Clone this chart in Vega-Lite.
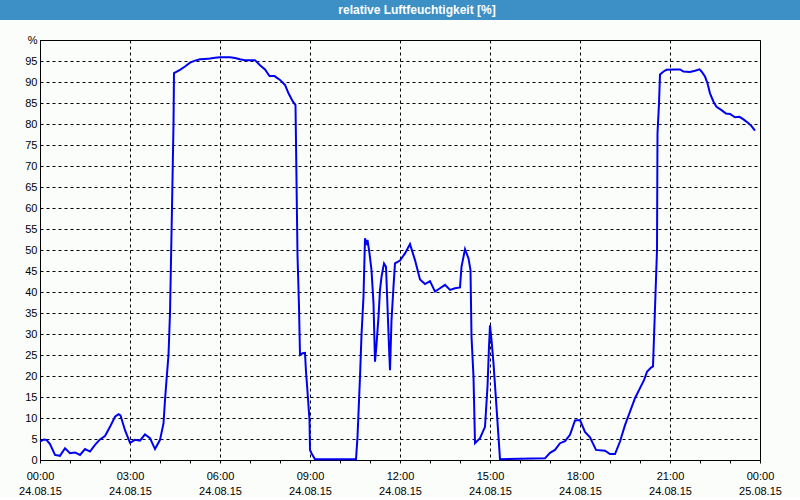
{
  "$schema": "https://vega.github.io/schema/vega-lite/v6.json",
  "background": "#fbfdfb",
  "padding": 0,
  "spacing": 20,
  "bounds": "flush",
  "center": true,
  "vconcat": [
    {
      "width": 800,
      "height": 20,
      "view": {"fill": "#3c90c6", "stroke": null},
      "data": {"values": [{"title": "relative Luftfeuchtigkeit [%]"}]},
      "mark": {"type": "text", "color": "white", "font": "Liberation Sans", "fontWeight": "bold", "fontSize": 12, "dx": 17, "baseline": "middle"},
      "encoding": {"text": {"field": "title", "type": "nominal"}}
    },
    {
      "width": 720,
      "height": 420,
      "view": {"stroke": "black", "strokeWidth": 1},
      "data": {"values": [
        {"t": "2015-08-24 00:00", "v": 4.4},
        {"t": "2015-08-24 00:08", "v": 4.9},
        {"t": "2015-08-24 00:13", "v": 4.8},
        {"t": "2015-08-24 00:20", "v": 3.8},
        {"t": "2015-08-24 00:30", "v": 1.2},
        {"t": "2015-08-24 00:40", "v": 1.0},
        {"t": "2015-08-24 00:50", "v": 2.8},
        {"t": "2015-08-24 01:00", "v": 1.6},
        {"t": "2015-08-24 01:10", "v": 1.8},
        {"t": "2015-08-24 01:20", "v": 1.2},
        {"t": "2015-08-24 01:30", "v": 2.6},
        {"t": "2015-08-24 01:40", "v": 2.0},
        {"t": "2015-08-24 01:50", "v": 3.6},
        {"t": "2015-08-24 02:00", "v": 4.9},
        {"t": "2015-08-24 02:10", "v": 5.7},
        {"t": "2015-08-24 02:20", "v": 7.9},
        {"t": "2015-08-24 02:30", "v": 10.3},
        {"t": "2015-08-24 02:37", "v": 10.9},
        {"t": "2015-08-24 02:41", "v": 10.6},
        {"t": "2015-08-24 02:50", "v": 7.1},
        {"t": "2015-08-24 03:00", "v": 4.1},
        {"t": "2015-08-24 03:10", "v": 4.8},
        {"t": "2015-08-24 03:20", "v": 4.6},
        {"t": "2015-08-24 03:30", "v": 6.1},
        {"t": "2015-08-24 03:40", "v": 5.2},
        {"t": "2015-08-24 03:50", "v": 2.6},
        {"t": "2015-08-24 04:00", "v": 4.8},
        {"t": "2015-08-24 04:07", "v": 8.7},
        {"t": "2015-08-24 04:10", "v": 14.3},
        {"t": "2015-08-24 04:13", "v": 19.0},
        {"t": "2015-08-24 04:17", "v": 25.0},
        {"t": "2015-08-24 04:20", "v": 35.0},
        {"t": "2015-08-24 04:24", "v": 60.0},
        {"t": "2015-08-24 04:27", "v": 80.0},
        {"t": "2015-08-24 04:28", "v": 92.1},
        {"t": "2015-08-24 04:40", "v": 92.9},
        {"t": "2015-08-24 04:50", "v": 93.7},
        {"t": "2015-08-24 05:00", "v": 94.6},
        {"t": "2015-08-24 05:10", "v": 95.1},
        {"t": "2015-08-24 05:20", "v": 95.4},
        {"t": "2015-08-24 05:30", "v": 95.5},
        {"t": "2015-08-24 05:40", "v": 95.6},
        {"t": "2015-08-24 05:50", "v": 95.8},
        {"t": "2015-08-24 06:00", "v": 95.9},
        {"t": "2015-08-24 06:10", "v": 95.9},
        {"t": "2015-08-24 06:20", "v": 95.9},
        {"t": "2015-08-24 06:30", "v": 95.7},
        {"t": "2015-08-24 06:40", "v": 95.4},
        {"t": "2015-08-24 06:50", "v": 95.2},
        {"t": "2015-08-24 07:00", "v": 95.2},
        {"t": "2015-08-24 07:10", "v": 95.2},
        {"t": "2015-08-24 07:20", "v": 94.0},
        {"t": "2015-08-24 07:30", "v": 93.0},
        {"t": "2015-08-24 07:39", "v": 91.4},
        {"t": "2015-08-24 07:49", "v": 91.4},
        {"t": "2015-08-24 08:00", "v": 90.5},
        {"t": "2015-08-24 08:10", "v": 89.3},
        {"t": "2015-08-24 08:17", "v": 87.3},
        {"t": "2015-08-24 08:25", "v": 85.5},
        {"t": "2015-08-24 08:31", "v": 84.5},
        {"t": "2015-08-24 08:35", "v": 48.8},
        {"t": "2015-08-24 08:38", "v": 36.5},
        {"t": "2015-08-24 08:40", "v": 25.0},
        {"t": "2015-08-24 08:45", "v": 25.4},
        {"t": "2015-08-24 08:50", "v": 25.5},
        {"t": "2015-08-24 08:52", "v": 21.0},
        {"t": "2015-08-24 08:55", "v": 16.3},
        {"t": "2015-08-24 08:59", "v": 9.5},
        {"t": "2015-08-24 09:00", "v": 2.4},
        {"t": "2015-08-24 09:03", "v": 1.6},
        {"t": "2015-08-24 09:10", "v": 0.2},
        {"t": "2015-08-24 10:32", "v": 0.2},
        {"t": "2015-08-24 10:35", "v": 5.5},
        {"t": "2015-08-24 10:40", "v": 19.8},
        {"t": "2015-08-24 10:43", "v": 29.8},
        {"t": "2015-08-24 10:47", "v": 38.9},
        {"t": "2015-08-24 10:50", "v": 52.8},
        {"t": "2015-08-24 10:53", "v": 51.2},
        {"t": "2015-08-24 10:55", "v": 52.4},
        {"t": "2015-08-24 10:59", "v": 49.2},
        {"t": "2015-08-24 11:03", "v": 45.2},
        {"t": "2015-08-24 11:07", "v": 37.3},
        {"t": "2015-08-24 11:10", "v": 23.4},
        {"t": "2015-08-24 11:13", "v": 27.4},
        {"t": "2015-08-24 11:17", "v": 34.1},
        {"t": "2015-08-24 11:20", "v": 40.5},
        {"t": "2015-08-24 11:23", "v": 43.6},
        {"t": "2015-08-24 11:28", "v": 46.8},
        {"t": "2015-08-24 11:32", "v": 46.0},
        {"t": "2015-08-24 11:35", "v": 36.5},
        {"t": "2015-08-24 11:38", "v": 27.0},
        {"t": "2015-08-24 11:40", "v": 21.4},
        {"t": "2015-08-24 11:43", "v": 33.3},
        {"t": "2015-08-24 11:47", "v": 41.3},
        {"t": "2015-08-24 11:50", "v": 46.8},
        {"t": "2015-08-24 12:00", "v": 47.5},
        {"t": "2015-08-24 12:10", "v": 49.2},
        {"t": "2015-08-24 12:20", "v": 51.4},
        {"t": "2015-08-24 12:30", "v": 47.6},
        {"t": "2015-08-24 12:40", "v": 43.0},
        {"t": "2015-08-24 12:50", "v": 41.9},
        {"t": "2015-08-24 13:00", "v": 42.6},
        {"t": "2015-08-24 13:10", "v": 40.1},
        {"t": "2015-08-24 13:20", "v": 40.9},
        {"t": "2015-08-24 13:30", "v": 41.7},
        {"t": "2015-08-24 13:40", "v": 40.5},
        {"t": "2015-08-24 13:50", "v": 40.9},
        {"t": "2015-08-24 14:00", "v": 41.1},
        {"t": "2015-08-24 14:03", "v": 46.0},
        {"t": "2015-08-24 14:10", "v": 50.2},
        {"t": "2015-08-24 14:17", "v": 48.0},
        {"t": "2015-08-24 14:21", "v": 45.2},
        {"t": "2015-08-24 14:23", "v": 29.4},
        {"t": "2015-08-24 14:27", "v": 19.8},
        {"t": "2015-08-24 14:30", "v": 4.0},
        {"t": "2015-08-24 14:40", "v": 5.2},
        {"t": "2015-08-24 14:50", "v": 7.9},
        {"t": "2015-08-24 14:55", "v": 17.5},
        {"t": "2015-08-24 14:58", "v": 27.0},
        {"t": "2015-08-24 15:00", "v": 32.1},
        {"t": "2015-08-24 15:03", "v": 28.6},
        {"t": "2015-08-24 15:07", "v": 23.0},
        {"t": "2015-08-24 15:12", "v": 14.3},
        {"t": "2015-08-24 15:17", "v": 5.5},
        {"t": "2015-08-24 15:20", "v": 0.2},
        {"t": "2015-08-24 16:50", "v": 0.4},
        {"t": "2015-08-24 17:00", "v": 1.7},
        {"t": "2015-08-24 17:10", "v": 2.4},
        {"t": "2015-08-24 17:20", "v": 4.0},
        {"t": "2015-08-24 17:30", "v": 4.5},
        {"t": "2015-08-24 17:40", "v": 6.0},
        {"t": "2015-08-24 17:50", "v": 9.4},
        {"t": "2015-08-24 18:00", "v": 9.5},
        {"t": "2015-08-24 18:10", "v": 6.7},
        {"t": "2015-08-24 18:20", "v": 5.4},
        {"t": "2015-08-24 18:32", "v": 2.4},
        {"t": "2015-08-24 18:50", "v": 2.2},
        {"t": "2015-08-24 19:00", "v": 1.4},
        {"t": "2015-08-24 19:10", "v": 1.4},
        {"t": "2015-08-24 19:20", "v": 4.4},
        {"t": "2015-08-24 19:30", "v": 8.3},
        {"t": "2015-08-24 19:40", "v": 11.5},
        {"t": "2015-08-24 19:50", "v": 14.7},
        {"t": "2015-08-24 20:00", "v": 17.1},
        {"t": "2015-08-24 20:08", "v": 19.0},
        {"t": "2015-08-24 20:14", "v": 21.0},
        {"t": "2015-08-24 20:22", "v": 22.0},
        {"t": "2015-08-24 20:26", "v": 22.3},
        {"t": "2015-08-24 20:34", "v": 50.0},
        {"t": "2015-08-24 20:35", "v": 77.8},
        {"t": "2015-08-24 20:38", "v": 84.9},
        {"t": "2015-08-24 20:40", "v": 91.8},
        {"t": "2015-08-24 20:47", "v": 92.5},
        {"t": "2015-08-24 20:53", "v": 92.9},
        {"t": "2015-08-24 21:10", "v": 93.0},
        {"t": "2015-08-24 21:20", "v": 93.0},
        {"t": "2015-08-24 21:27", "v": 92.5},
        {"t": "2015-08-24 21:40", "v": 92.4},
        {"t": "2015-08-24 21:50", "v": 92.7},
        {"t": "2015-08-24 21:59", "v": 93.0},
        {"t": "2015-08-24 22:03", "v": 92.5},
        {"t": "2015-08-24 22:10", "v": 91.3},
        {"t": "2015-08-24 22:15", "v": 89.7},
        {"t": "2015-08-24 22:20", "v": 87.3},
        {"t": "2015-08-24 22:27", "v": 85.3},
        {"t": "2015-08-24 22:33", "v": 84.1},
        {"t": "2015-08-24 22:43", "v": 83.3},
        {"t": "2015-08-24 22:52", "v": 82.5},
        {"t": "2015-08-24 23:00", "v": 82.4},
        {"t": "2015-08-24 23:10", "v": 81.6},
        {"t": "2015-08-24 23:19", "v": 81.7},
        {"t": "2015-08-24 23:27", "v": 81.1},
        {"t": "2015-08-24 23:37", "v": 80.2},
        {"t": "2015-08-24 23:43", "v": 79.5},
        {"t": "2015-08-24 23:50", "v": 78.4}
      ]},
      "resolve": {"axis": {"x": "independent"}},
      "layer": [
        {
          "mark": {"type": "line", "color": "#0000f0", "strokeWidth": 2},
          "encoding": {
            "x": {
              "field": "t",
              "type": "temporal",
              "scale": {"domain": [
                {"year": 2015, "month": 8, "date": 24, "hours": 0},
                {"year": 2015, "month": 8, "date": 25, "hours": 0}
              ]},
              "axis": {
                "title": null,
                "orient": "bottom",
                "tickCount": 24,
                "labelExpr": "hours(datum.value) % 3 == 0 ? timeFormat(datum.value, '%H:%M') : ''",
                "labelOverlap": false,
                "labelFlush": false,
                "labelFont": "Liberation Sans",
                "labelFontSize": 11,
                "labelColor": "black",
                "labelPadding": 7,
                "tickSize": 3,
                "tickColor": "black",
                "domainColor": "black",
                "grid": true,
                "gridColor": "black",
                "gridDash": [3, 3],
                "gridOpacity": {"condition": {"test": "hours(datum.value) % 3 == 0", "value": 1}, "value": 0}
              }
            },
            "y": {
              "field": "v",
              "type": "quantitative",
              "scale": {"domain": [0, 100], "nice": false},
              "axis": {
                "title": null,
                "values": [0, 5, 10, 15, 20, 25, 30, 35, 40, 45, 50, 55, 60, 65, 70, 75, 80, 85, 90, 95, 100],
                "labelExpr": "datum.value == 100 ? '%' : datum.label",
                "labelOverlap": false,
                "labelFont": "Liberation Sans",
                "labelFontSize": 11,
                "labelColor": "black",
                "labelPadding": 3,
                "ticks": false,
                "domainColor": "black",
                "grid": true,
                "gridColor": "black",
                "gridDash": [3, 3]
              }
            }
          }
        },
        {
          "mark": {"type": "line", "color": "#0000f0", "strokeWidth": 2, "opacity": 0},
          "encoding": {
            "x": {
              "field": "t",
              "type": "temporal",
              "scale": {"domain": [
                {"year": 2015, "month": 8, "date": 24, "hours": 0},
                {"year": 2015, "month": 8, "date": 25, "hours": 0}
              ]},
              "axis": {
                "title": null,
                "orient": "bottom",
                "tickCount": 24,
                "labelExpr": "hours(datum.value) % 3 == 0 ? timeFormat(datum.value, '%d.%m.%y') : ''",
                "labelOverlap": false,
                "labelFlush": false,
                "labelFont": "Liberation Sans",
                "labelFontSize": 11,
                "labelColor": "black",
                "labelPadding": 25,
                "ticks": false,
                "domain": false,
                "grid": false
              }
            },
            "y": {
              "field": "v",
              "type": "quantitative",
              "scale": {"domain": [0, 100], "nice": false},
              "axis": {
                "title": null,
                "values": [0, 5, 10, 15, 20, 25, 30, 35, 40, 45, 50, 55, 60, 65, 70, 75, 80, 85, 90, 95, 100],
                "labelExpr": "datum.value == 100 ? '%' : datum.label",
                "labelOverlap": false,
                "labelFont": "Liberation Sans",
                "labelFontSize": 11,
                "labelColor": "black",
                "labelPadding": 3,
                "ticks": false,
                "domainColor": "black",
                "grid": true,
                "gridColor": "black",
                "gridDash": [3, 3]
              }
            }
          }
        }
      ]
    }
  ]
}
